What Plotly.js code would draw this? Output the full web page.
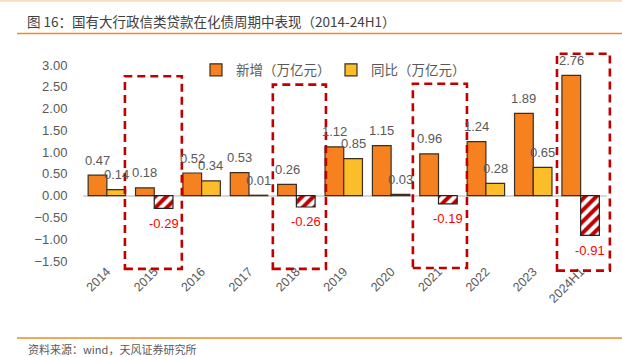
<!DOCTYPE html>
<html>
<head>
<meta charset="utf-8">
<script src="https://cdn.plot.ly/plotly-3.0.1.min.js"></script>
<style>
html,body{margin:0;padding:0;background:#fff;}
#chart{width:622px;height:357px;}
</style>
</head>
<body>
<div id="chart"></div>
<script>
// ---- data ----
var years = ['2014','2015','2016','2017','2018','2019','2020','2021','2022','2023','2024H1'];
var xinzeng = [0.47, 0.18, 0.52, 0.53, 0.26, 1.12, 1.15, 0.96, 1.24, 1.89, 2.76];
var tongbi  = [0.14, -0.29, 0.34, 0.01, -0.26, 0.85, 0.03, -0.19, 0.28, 0.65, -0.91];
var highlightYears = ['2015','2018','2021','2024H1'];
var seriesNames = ['新增（万亿元）', '同比（万亿元）'];
var yTickVals = [-1.5, -1.0, -0.5, 0, 0.5, 1.0, 1.5, 2.0, 2.5, 3.0];
var yRange = [-1.5, 3.0];

// ---- geometry helpers ----
var W = 622, H = 357;
var M = {l: 83, r: 15, t: 65, b: 96};
var PW = W - M.l - M.r, PH = H - M.t - M.b;
function px(x){ return (x - M.l) / PW; }          // pixel x -> paper
function py(y){ return (H - M.b - y) / PH; }      // pixel y -> paper
function catPaper(i){ return (i + 0.5) / years.length; }           // category index -> paper x
function valPaper(v){ return (v - yRange[0]) / (yRange[1] - yRange[0]); } // value -> paper y

var FONT = '"Liberation Sans", Arial, "Noto Sans CJK SC", sans-serif';
var CJK = '"Noto Sans CJK SC", "Liberation Sans", sans-serif';
var ORANGE = '#f5821f', YELLOW = '#fbbd2a', EDGE = '#3d2e1f', RED = '#c00000';
var BAR_OFF = 0.1975; // half of a bar width within a group (bargap 0.21, two bars)

var yoyPos = tongbi.map(function(v){ return v >= 0 ? v : null; });
var yoyNeg = tongbi.map(function(v){ return v < 0 ? v : null; });

var traces = [
  {
    type: 'bar', name: seriesNames[0], x: years, y: xinzeng, offsetgroup: 'a',
    marker: {color: ORANGE, line: {color: EDGE, width: 1.2}},
    hoverinfo: 'x+y'
  },
  {
    type: 'bar', name: seriesNames[1], x: years, y: yoyPos, offsetgroup: 'b',
    marker: {color: YELLOW, line: {color: EDGE, width: 1.2}},
    hoverinfo: 'x+y'
  },
  {
    type: 'bar', name: seriesNames[1], x: years, y: yoyNeg, offsetgroup: 'b', showlegend: false,
    marker: {
      color: '#ffffff', line: {color: '#222222', width: 1.2},
      pattern: {shape: '/', fgcolor: RED, bgcolor: '#ffffff', size: 8, solidity: 0.5}
    },
    hoverinfo: 'x+y'
  }
];

// value labels
var annotations = [];
xinzeng.forEach(function(v, i){
  annotations.push({xref: 'x', yref: 'y', x: i - BAR_OFF, y: v, yshift: 15, text: v.toFixed(2),
    showarrow: false, xanchor: 'center', yanchor: 'middle',
    font: {family: FONT, size: 13, color: '#595959'}});
});
tongbi.forEach(function(v, i){
  annotations.push({xref: 'x', yref: 'y', x: i + BAR_OFF, y: v, yshift: v < 0 ? -15 : 15, text: v.toFixed(2),
    showarrow: false, xanchor: 'center', yanchor: 'middle',
    font: {family: FONT, size: 13, color: v < 0 ? '#ff0000' : '#595959'}});
});
annotations.push({
  xref: 'paper', yref: 'paper', x: px(27), y: py(349), xanchor: 'left', yanchor: 'middle', borderpad: 0,
  text: '资料来源：wind，天风证券研究所', showarrow: false,
  font: {family: CJK, size: 11, color: '#595959'}
});

// highlight boxes (dashed red rectangles around selected years)
var boxSpec = {
  '2015':   {l: -0.62, r: 0.575, top: 2.74, bottom: -1.68},
  '2018':   {l: -0.515, r: 0.6,  top: 2.55, bottom: -1.68},
  '2021':   {l: -0.575, r: 0.56, top: 2.57, bottom: -1.66},
  '2024H1': {l: -0.55, r: 0.56,  top: 3.26, bottom: -1.72}
};
var shapes = highlightYears.map(function(yr){
  var i = years.indexOf(yr), s = boxSpec[yr];
  return {
    type: 'rect', xref: 'paper', yref: 'paper',
    x0: catPaper(i + s.l), x1: catPaper(i + s.r), y0: valPaper(s.bottom), y1: valPaper(s.top),
    line: {color: RED, width: 2.6, dash: '8px,5px'}, fillcolor: 'rgba(0,0,0,0)', layer: 'above'
  };
});
// decorative rules
shapes.push({type: 'line', xref: 'paper', yref: 'paper', x0: px(0), x1: px(W), y0: py(0.8), y1: py(0.8),
  line: {color: '#fcdcbc', width: 2}});
shapes.push({type: 'line', xref: 'paper', yref: 'paper', x0: px(17), x1: px(W), y0: py(33.5), y1: py(33.5),
  line: {color: '#f08a24', width: 1.5}});
shapes.push({type: 'line', xref: 'paper', yref: 'paper', x0: px(17), x1: px(W), y0: py(338), y1: py(338),
  line: {color: '#f08a24', width: 1.5}});

var layout = {
  width: W, height: H,
  margin: M,
  paper_bgcolor: '#ffffff', plot_bgcolor: '#ffffff',
  font: {family: FONT, color: '#595959'},
  title: {
    text: '图 16：国有大行政信类贷款在化债周期中表现（2014-24H1）',
    font: {family: CJK, size: 13.5, color: '#404040'},
    xref: 'container', yref: 'container',
    x: 27 / W, xanchor: 'left', y: 1 - 22 / H, yanchor: 'middle', pad: {t: 0, b: 0, l: 0, r: 0}
  },
  barmode: 'group', bargap: 0.21, bargroupgap: 0,
  showlegend: true,
  legend: {
    orientation: 'h', x: px(196), xanchor: 'left', y: py(70), yanchor: 'middle',
    font: {family: CJK, size: 13.5, color: '#595959'},
    bgcolor: 'rgba(0,0,0,0)', itemwidth: 30, traceorder: 'normal',
    entrywidth: 90, entrywidthmode: 'pixels'
  },
  xaxis: {
    type: 'category', tickangle: -45, showgrid: false, showline: false, zeroline: false,
    ticks: '', tickfont: {family: FONT, size: 12.5, color: '#595959'}, fixedrange: true
  },
  yaxis: {
    range: yRange, tickvals: yTickVals, tickformat: '.2f', showgrid: false, showline: false,
    zeroline: true, zerolinecolor: '#d9d9d9', zerolinewidth: 2,
    ticks: 'outside', ticklen: 12, tickcolor: 'rgba(0,0,0,0)',
    tickfont: {family: FONT, size: 13, color: '#595959'}, fixedrange: true
  },
  shapes: shapes,
  annotations: annotations
};

Plotly.newPlot('chart', traces, layout, {displayModeBar: false, staticPlot: true});
</script>
</body>
</html>
